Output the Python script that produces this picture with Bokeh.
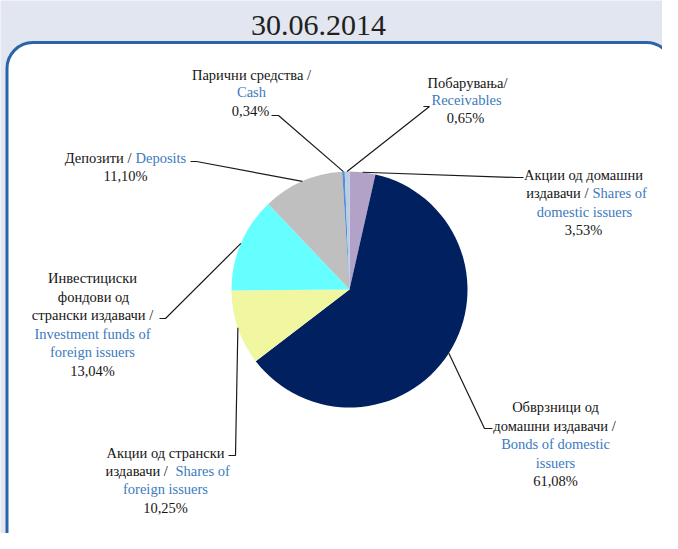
import math
from bokeh.plotting import figure
from bokeh.models import Range1d, BoxAnnotation, ColumnDataSource
from bokeh.core.properties import value
from bokeh.embed import file_html
from bokeh.resources import INLINE

# ---------------- data ----------------
title_text = "30.06.2014"
categories_mk = ["Акции од домашни издавачи", "Обврзници од домашни издавачи",
                 "Акции од странски издавачи", "Инвестициски фондови од странски издавачи",
                 "Депозити", "Парични средства", "Побарувања"]
categories_en = ["Shares of domestic issuers", "Bonds of domestic issuers",
                 "Shares of foreign issuers", "Investment funds of foreign issuers",
                 "Deposits", "Cash", "Receivables"]
shares = [3.53, 61.08, 10.25, 13.04, 11.10, 0.34, 0.65]
slice_colors = ["#B3A2C7", "#002060", "#F1F6A1", "#66FFFF", "#BFBFBF", "#558ED5", "#B9CDE5"]

# label lines per slice: (black part, blue part)
label_lines = [
    [("Акции од домашни", ""), ("издавачи /", "Shares of"), ("", "domestic issuers")],
    [("Обврзници од", ""), ("домашни издавачи /", ""), ("", "Bonds of domestic"), ("", "issuers")],
    [("Акции од странски", ""), ("издавачи  /", "Shares of"), ("", "foreign issuers")],
    [("Инвестициски", ""), ("фондови од", ""), ("странски издавачи /", ""),
     ("", "Investment funds of"), ("", "foreign issuers")],
    [("Депозити /", "Deposits")],
    [("Парични средства /", ""), ("", "Cash")],
    [("Побарувања/", ""), ("", "Receivables")],
]

# ---------------- layout (reference pixel coordinates) ----------------
W, H = 662, 533
def Y(y):
    return 549 - y

CX, CY, R = 349, 289, 118
BLACK = "#161616"
BLUE = "#3B7AC0"
FONT = "Liberation Serif"
FS = "14.5px"

label_pos = [
    dict(x=[583, 590, 584], y=[174, 192, 211], pct=(583, 229), elbow=[(523, 177), (516, 177)]),
    dict(x=[555, 554, 555, 555], y=[406, 425, 443, 462], pct=(555, 480), elbow=[(492, 428), (484, 428)]),
    dict(x=[165, 173, 165], y=[452, 470, 488], pct=(165, 507), elbow=[(228, 455), (235, 455)]),
    dict(x=[92, 93, 92, 92, 92], y=[277, 296, 314, 333, 351], pct=(92, 370), elbow=[(159, 318), (165, 318)]),
    dict(x=[133], y=[157], pct=(125, 175), elbow=[(190, 161), (196, 161)]),
    dict(x=[251, 251], y=[74, 91], pct=(250, 110), elbow=[(271, 115), (278, 115)]),
    dict(x=[467, 466], y=[82, 99], pct=(465, 117), elbow=[(423, 106), (429, 106)]),
]

p = figure(width=W, height=H, output_backend="svg", toolbar_location=None,
           x_range=Range1d(0, W), y_range=Range1d(549 - H, 549),
           x_axis_type=None, y_axis_type=None, min_border=0)
p.outline_line_color = None
p.grid.visible = False
p.background_fill_color = "#E1E6F1"
p.border_fill_color = "#E1E6F1"

# white rounded panel
panel = BoxAnnotation(left=6.5, right=672, top=Y(42), bottom=Y(575), border_radius=26,
                      fill_color="white", fill_alpha=1.0, line_color="#2A64A8",
                      line_alpha=1.0, line_width=3, level="underlay")
p.add_layout(panel)

# title
p.text(x=[318], y=[Y(25)], text=[title_text], text_align="center", text_baseline="middle",
       text_font=value(FONT), text_font_size="30px", text_color="#231F20")

# pie
total = sum(shares)
starts, ends, mids = [], [], []
cum = 0.0
for v in shares:
    a0 = math.pi / 2 - 2 * math.pi * cum / total
    cum += v
    a1 = math.pi / 2 - 2 * math.pi * cum / total
    starts.append(a0)
    ends.append(a1)
    mids.append((a0 + a1) / 2)

src = ColumnDataSource(dict(start=starts, end=ends, color=slice_colors,
                            mk=categories_mk, en=categories_en, share=shares))
p.wedge(x=CX, y=Y(CY), radius=R, start_angle="start", end_angle="end", direction="clock",
        fill_color="color", line_color=None, source=src)

# leader lines
xs, ys = [], []
for i, m in enumerate(mids):
    ax = CX + R * math.cos(m)
    ay = Y(CY) + R * math.sin(m)
    (e0x, e0y), (e1x, e1y) = label_pos[i]["elbow"]
    xs.append([e0x, e1x, ax])
    ys.append([Y(e0y), Y(e1y), ay])
p.multi_line(xs=xs, ys=ys, line_color="#1A1A1A", line_width=1.2)

# labels
groups = {}
def add(key, x, y, t):
    groups.setdefault(key, dict(x=[], y=[], text=[]))
    groups[key]["x"].append(x)
    groups[key]["y"].append(Y(y))
    groups[key]["text"].append(t)

for i, lines in enumerate(label_lines):
    pos = label_pos[i]
    for (blk, blu), lx, ly in zip(lines, pos["x"], pos["y"]):
        if blk and blu:
            add(("right", BLACK), lx - 2, ly, blk)
            add(("left", BLUE), lx + 2, ly, blu)
        elif blk:
            add(("center", BLACK), lx, ly, blk)
        else:
            add(("center", BLUE), lx, ly, blu)
    px, py = pos["pct"]
    add(("center", BLACK), px, py, f"{shares[i]:.2f}".replace(".", ",") + "%")

for (align, color), d in groups.items():
    p.text(x="x", y="y", text="text", source=ColumnDataSource(d), text_align=align,
           text_baseline="middle", text_font=value(FONT), text_font_size=FS,
           text_color=color)

open("out.html", "w").write(file_html(p, INLINE))
